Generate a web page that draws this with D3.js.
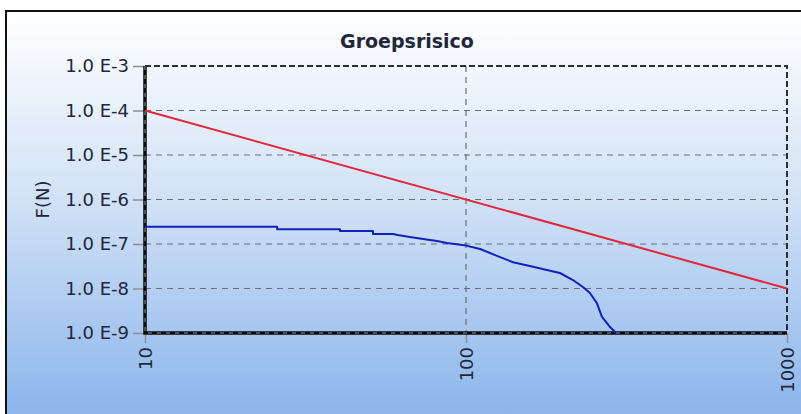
<!DOCTYPE html>
<html>
<head>
<meta charset="utf-8">
<script src="https://cdn.jsdelivr.net/npm/d3@7"></script>
<style>
  html, body { margin: 0; padding: 0; background: #fff; }
  svg { display: block; }
  text { font-family: "DejaVu Sans", Verdana, sans-serif; fill: #22263a; }
</style>
</head>
<body>
<svg id="chart" width="801" height="414"></svg>
<script>
const chartTitle = "Groepsrisico";
const yTitle = "F(N)";

// x ticks (N) and y ticks (F)
const xTicks = [10, 100, 1000];
const yTicks = [1e-9, 1e-8, 1e-7, 1e-6, 1e-5, 1e-4, 1e-3];
const yTickLabels = ["1.0 E-9", "1.0 E-8", "1.0 E-7", "1.0 E-6", "1.0 E-5", "1.0 E-4", "1.0 E-3"];

// orientatiewaarde (red line)
const normN = [10, 1000];
const normF = [1e-4, 1e-8];

// groepsrisico curve (blue)
const groupN = [10, 25.8, 25.8, 40.5, 40.5, 51.3, 51.3, 59.3, 61.2, 66.9, 73.5, 81.2, 87.3, 100,
  110.7, 124.9, 140.1, 158.1, 178.5, 196.2, 215.4, 231.3, 243.3, 255.7, 265.2, 281.1, 291.2, 293];
const groupF = [2.45e-7, 2.45e-7, 2.14e-7, 2.14e-7, 1.96e-7, 1.96e-7, 1.68e-7, 1.68e-7, 1.59e-7,
  1.43e-7, 1.29e-7, 1.17e-7, 1.05e-7, 9.2e-8, 7.7e-8, 5.4e-8, 3.9e-8, 3.2e-8, 2.6e-8, 2.23e-8,
  1.55e-8, 1.08e-8, 7.9e-9, 4.7e-9, 2.3e-9, 1.36e-9, 1.05e-9, 1e-9];

const svg = d3.select("#chart");
const margin = { top: 66, right: 14, bottom: 81, left: 145 };
const width = 801, height = 414;

//background gradient
const defs = svg.append("defs");
const grad = defs.append("linearGradient").attr("id", "bg").attr("x1", 0).attr("y1", 0).attr("x2", 0).attr("y2", 1);
grad.append("stop").attr("offset", "0%").attr("stop-color", "#ffffff");
grad.append("stop").attr("offset", "45%").attr("stop-color", "#d2e2f6");
grad.append("stop").attr("offset", "100%").attr("stop-color", "#88b3ec");

svg.append("rect")
  .attr("x", 6).attr("y", 11)
  .attr("width", width).attr("height", height)
  .attr("fill", "url(#bg)")
  .attr("stroke", "#111").attr("stroke-width", 2);

//scales
const x = d3.scaleLog().domain([10, 1000]).range([margin.left, width - margin.right]);
const y = d3.scaleLog().domain([1e-9, 1e-3]).range([height - margin.bottom, margin.top]);

//grid
const grid = svg.append("g").attr("stroke", "#6a6f7a").attr("stroke-width", 1.2).attr("stroke-dasharray", "6,5");
grid.selectAll(".hg").data(yTicks.slice(1, -1)).enter().append("line")
  .attr("x1", x(10)).attr("x2", x(1000))
  .attr("y1", (d) => y(d)).attr("y2", (d) => y(d));
grid.selectAll(".vg").data(xTicks.slice(1, -1)).enter().append("line")
  .attr("y1", y(1e-3)).attr("y2", y(1e-9))
  .attr("x1", (d) => x(d)).attr("x2", (d) => x(d));

//top and right border of plot
svg.append("path")
  .attr("d", `M${x(10)},${y(1e-3)}H${x(1000)}V${y(1e-9)}`)
  .attr("fill", "none").attr("stroke", "#2a2d36").attr("stroke-width", 2)
  .attr("stroke-dasharray", "6,3");

//axes
const fmt = (d) => yTickLabels[yTicks.indexOf(d)];
const yAxis = d3.axisLeft(y).tickValues(yTicks).tickFormat(fmt).tickSize(12).tickPadding(4);
const xAxis = d3.axisBottom(x).tickValues(xTicks).tickFormat(d3.format("d")).tickSize(10).tickPadding(4);

const gy = svg.append("g").attr("transform", `translate(${margin.left},0)`).call(yAxis);
const gx = svg.append("g").attr("transform", `translate(0,${height - margin.bottom})`).call(xAxis);

[gx, gy].forEach((g) => {
  g.select(".domain").remove();
  g.selectAll(".tick line").attr("stroke", "#8a8f99").attr("stroke-width", 1.5);
  g.selectAll("text").attr("fill", "#22263a").style("font-size", "18px");
});

gx.selectAll(".tick text")
  .attr("transform", "rotate(-90)")
  .attr("text-anchor", "end")
  .attr("x", -14).attr("y", 0).attr("dy", "0.35em");

//thick axis lines
svg.append("path")
  .attr("d", `M${x(10)},${y(1e-3)}V${y(1e-9)}H${x(1000)}`)
  .attr("fill", "none").attr("stroke", "#0b0b0b").attr("stroke-width", 3.5);
svg.append("path")
  .attr("d", `M${x(10)},${y(1e-3)}V${y(1e-9)}H${x(1000)}`)
  .attr("fill", "none").attr("stroke", "#8d939c").attr("stroke-width", 1)
  .attr("stroke-dasharray", "4,5");

//lines
const line = d3.line().x((d) => x(d[0])).y((d) => y(d[1]));
svg.append("path")
  .datum(normN.map((n, i) => [n, normF[i]]))
  .attr("d", line)
  .attr("fill", "none").attr("stroke", "#e0283a").attr("stroke-width", 2);

svg.append("path")
  .datum(groupN.map((n, i) => [n, groupF[i]]))
  .attr("d", line)
  .attr("fill", "none").attr("stroke", "#1122b8").attr("stroke-width", 2)
  .attr("stroke-linejoin", "round");

//titles
svg.append("text")
  .attr("x", 407).attr("y", 48)
  .attr("text-anchor", "middle")
  .style("font-size", "19px").style("font-weight", "bold")
  .attr("fill", "#1a1a1a")
  .text(chartTitle);

svg.append("text")
  .attr("transform", `translate(49,${(y(1e-3) + y(1e-9)) / 2}) rotate(-90)`)
  .attr("text-anchor", "middle")
  .style("font-size", "18px")
  .text(yTitle);
</script>
</body>
</html>
